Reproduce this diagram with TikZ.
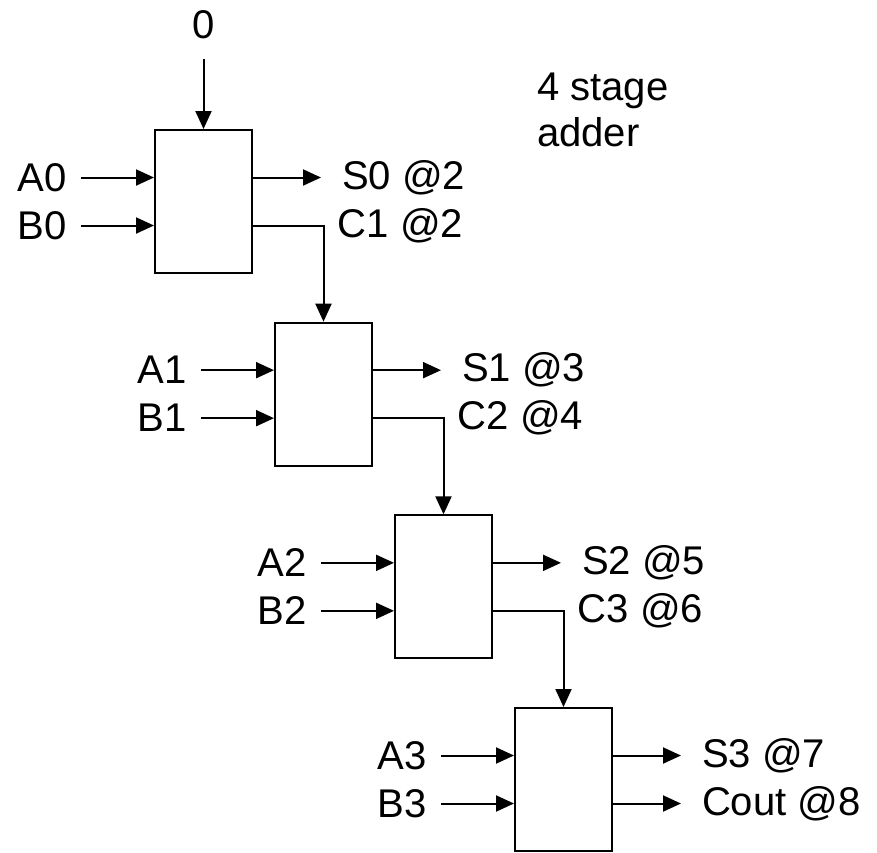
\documentclass[tikz,border=0pt]{standalone}
\usepackage{fontspec}
\setmainfont{Liberation Sans}
\usepackage{tikz}
\usetikzlibrary{positioning,arrows.meta}
\tikzstyle{stage}=[draw,rectangle,minimum width=2.425cm,minimum height=3.575cm,inner sep=0pt]
\tikzstyle{outlabel}=[inner xsep=0.5cm]

\begin{document}
\begin{tikzpicture}[>={Triangle[length=0.45cm,width=0.4cm]},line width=0.05cm,
                    font=\fontsize{28.5}{33}\selectfont,inner sep=0.33cm]
              \useasboundingbox (0,0) rectangle (21.925,-21.325);
              \foreach \i/\st in {0/2, 1/3, 2/5, 3/7} {
                \node[stage] (box\i) at ({5.0875+3*\i},{-5.0375-4.8167*\i}) {};
                \node[left=1.825cm of box\i.west,yshift=0.6cm] (a\i) {A\i};
                \node[left=1.825cm of box\i.west,yshift=-0.6cm] (b\i) {B\i};
                \node[outlabel,right=1.7cm of box\i.east,yshift=0.6cm] (s\i) {S\i\ @\st};
                \draw[->] (a\i) -- (a\i -| box\i.west);
                \draw[->] (b\i) -- (b\i -| box\i.west);
                \draw[->] (box\i.east |- s\i) -- (s\i);
              }
              \foreach \i/\j/\ct in {0/1/2, 1/2/4, 2/3/6} {
                \node[anchor=west] (c\j) at (box\j.north |- b\i) {C\j\ @\ct};
                \draw[->] (box\i.east |- c\j) -| (box\j.north);
              }
              \node[outlabel,right=1.7cm of box3.east,yshift=-0.6cm] (cout) {Cout @8};
              \draw[->] (box3.east |- cout) -- (cout);
              \node (cin) at (5.0875,-0.625) {0};
              \draw[->,shorten <=0.15cm] (cin) -- (box0);
              \node[align=left,anchor=north west,inner sep=0pt] (title) at (13.4,-1.8) {4 stage\\adder};
            \end{tikzpicture}
\end{document}
